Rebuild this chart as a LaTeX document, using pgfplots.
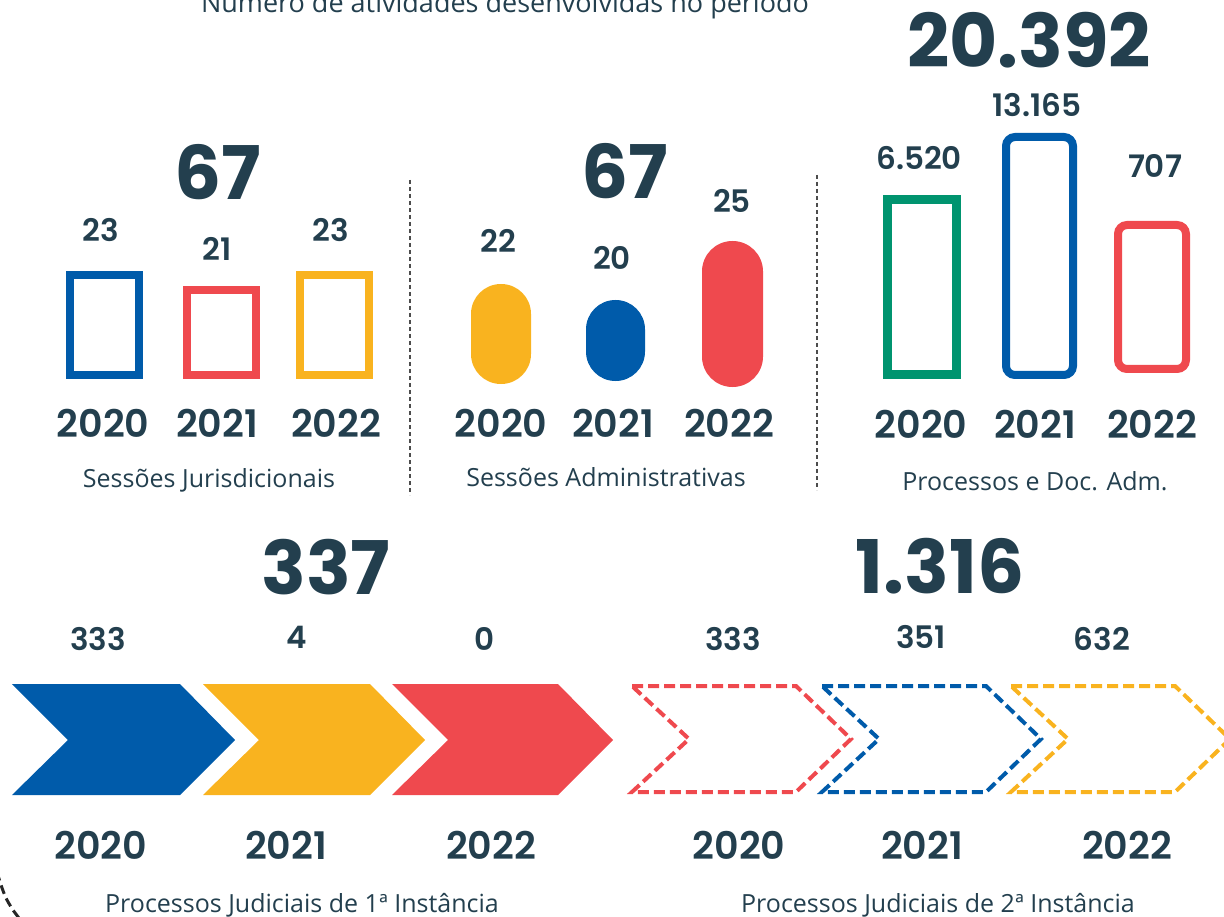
\documentclass[border=0pt]{standalone}
\usepackage{pgfplots}
\pgfplotsset{compat=1.18}
\usepackage{fontspec}
\setmainfont{Open Sans}
\newfontfamily\numfont{Poppins}
\newfontfamily\numsemi{Poppins}[UprightFont={* SemiBold}]
\definecolor{ink}{HTML}{233F4E}
\definecolor{cblue}{HTML}{005BAA}
\definecolor{cred}{HTML}{EF494E}
\definecolor{cyel}{HTML}{F9B31F}
\definecolor{cgreen}{HTML}{00946F}
\newcommand\tot[1]{{\numfont\bfseries\fontsize{74}{80}\selectfont #1}}
\newcommand\val[1]{{\numsemi\fontsize{31}{36}\selectfont #1}}
\newcommand\yr[1]{{\numsemi\fontsize{38}{42}\selectfont #1}}
\newcommand\lab[1]{{\fontsize{25}{28}\selectfont #1}}
\tikzset{lbl/.style={text=ink, inner sep=0pt, anchor=base}}
\begin{document}
\begin{tikzpicture}
\begin{axis}[scale only axis, width=1224pt, height=917pt,
  xmin=0, xmax=1224, ymin=0, ymax=917, y dir=reverse,
  axis lines=none, clip=false]
% --- title
\node[lbl] at (axis cs:505,13) {\fontsize{27}{30}\selectfont Número de atividades desenvolvidas no período};
% --- separators
\addplot[no markers, color=black!70, line width=1.5pt, dash pattern=on 4pt off 3pt] coordinates {(410,180) (410,495)};
\addplot[no markers, color=black!70, line width=1.5pt, dash pattern=on 4pt off 3pt] coordinates {(817,175) (817,490)};
% --- Panel 1: Sessoes Jurisdicionais (23, 21, 23; total 67)
\addplot[no markers, draw=cblue, line width=8pt, line join=miter] coordinates {(70,275) (139,275) (139,375) (70,375)} -- cycle;
\addplot[no markers, draw=cred, line width=8pt, line join=miter] coordinates {(187,290) (256,290) (256,375) (187,375)} -- cycle;
\addplot[no markers, draw=cyel, line width=8pt, line join=miter] coordinates {(300,275) (369,275) (369,375) (300,375)} -- cycle;
\node[lbl] at (axis cs:218,200) {\tot{67}};
\node[lbl] at (axis cs:101,242) {\val{23}};
\node[lbl] at (axis cs:217,261) {\val{21}};
\node[lbl] at (axis cs:331,242) {\val{23}};
\node[lbl] at (axis cs:103,437) {\yr{2020}};
\node[lbl] at (axis cs:217,437) {\yr{2021}};
\node[lbl] at (axis cs:336,437) {\yr{2022}};
\node[lbl] at (axis cs:209,487) {\lab{Sessões Jurisdicionais}};
% --- Panel 2: Sessoes Administrativas (22, 20, 25; total 67)
\addplot[no markers, fill=cyel, draw=none, rounded corners=29.9pt] coordinates {(471,284) (531,284) (531,384) (471,384)} -- cycle;
\addplot[no markers, fill=cblue, draw=none, rounded corners=29.4pt] coordinates {(586,300) (645,300) (645,381) (586,381)} -- cycle;
\addplot[no markers, fill=cred, draw=none, rounded corners=30.4pt] coordinates {(702,241) (763,241) (763,387) (702,387)} -- cycle;
\node[lbl] at (axis cs:625,199) {\tot{67}};
\node[lbl] at (axis cs:498,253) {\val{22}};
\node[lbl] at (axis cs:612,270) {\val{20}};
\node[lbl] at (axis cs:732,213) {\val{25}};
\node[lbl] at (axis cs:501,437) {\yr{2020}};
\node[lbl] at (axis cs:613,437) {\yr{2021}};
\node[lbl] at (axis cs:729,437) {\yr{2022}};
\node[lbl] at (axis cs:606,486) {\lab{Sessões Administrativas}};
% --- Panel 3: Processos e Doc. Adm. (6520, 13165, 707; total 20392)
\addplot[no markers, draw=cgreen, line width=9pt, line join=miter] coordinates {(887,200) (956,200) (956,375) (887,375)} -- cycle;
\addplot[no markers, draw=cblue, line width=8pt, rounded corners=9pt] coordinates {(1006,137) (1073,137) (1073,375) (1006,375)} -- cycle;
\addplot[no markers, draw=cred, line width=8pt, rounded corners=9pt] coordinates {(1118,225) (1186,225) (1186,369) (1118,369)} -- cycle;
\node[lbl] at (axis cs:1029,68) {\tot{20.392}};
\node[lbl] at (axis cs:919,170) {\val{6.520}};
\node[lbl] at (axis cs:1037,117) {\val{13.165}};
\node[lbl] at (axis cs:1155,178) {\val{707}};
\node[lbl] at (axis cs:921,438) {\yr{2020}};
\node[lbl] at (axis cs:1035,438) {\yr{2021}};
\node[lbl] at (axis cs:1152,438) {\yr{2022}};
\node[lbl] at (axis cs:1035,490) {\lab{Processos e Doc. Adm.}};
% --- Panel 4: Processos Judiciais 1a instancia (333, 4, 0; total 337)
\addplot[no markers, fill=cblue, draw=none] coordinates {(12,684) (180,684) (235,740) (180,795) (12,795) (68,740)} -- cycle;
\addplot[no markers, fill=cyel, draw=none] coordinates {(203,684) (370,684) (425,740) (370,795) (203,795) (259,740)} -- cycle;
\addplot[no markers, fill=cred, draw=none] coordinates {(392,684) (558,684) (613,740) (558,795) (392,795) (448,740)} -- cycle;
\node[lbl] at (axis cs:326,594) {\tot{337}};
\node[lbl] at (axis cs:98,650) {\val{333}};
\node[lbl] at (axis cs:297,648) {\val{4}};
\node[lbl] at (axis cs:485,650) {\val{0}};
\node[lbl] at (axis cs:101,859) {\yr{2020}};
\node[lbl] at (axis cs:286,859) {\yr{2021}};
\node[lbl] at (axis cs:491,859) {\yr{2022}};
\node[lbl] at (axis cs:302,912) {\lab{Processos Judiciais de 1ª Instância}};
% --- Panel 5: Processos Judiciais 2a instancia (333, 351, 632; total 1316)
\addplot[no markers, draw=cred, line width=4pt, dash pattern=on 11pt off 5pt] coordinates {(632,686) (796,686) (851,739) (796,792) (632,792) (689,739)} -- cycle;
\addplot[no markers, draw=cblue, line width=4pt, dash pattern=on 11pt off 5pt] coordinates {(822,686) (986,686) (1041,739) (986,792) (822,792) (879,739)} -- cycle;
\addplot[no markers, draw=cyel, line width=4pt, dash pattern=on 11pt off 5pt] coordinates {(1011,686) (1175,686) (1230,739) (1175,792) (1011,792) (1068,739)} -- cycle;
\node[lbl] at (axis cs:940,593) {\tot{1.316}};
\node[lbl] at (axis cs:733,650) {\val{333}};
\node[lbl] at (axis cs:921,648) {\val{351}};
\node[lbl] at (axis cs:1102,650) {\val{632}};
\node[lbl] at (axis cs:739,859) {\yr{2020}};
\node[lbl] at (axis cs:922,859) {\yr{2021}};
\node[lbl] at (axis cs:1127,859) {\yr{2022}};
\node[lbl] at (axis cs:938,912) {\lab{Processos Judiciais de 2ª Instância}};
% --- decorative dashed arc, bottom left
\addplot[no markers, smooth, color=black!85, line width=3pt, dash pattern=on 9pt off 5pt] coordinates {(-3,872) (1,885) (6,898) (13,910) (22,922)};
\end{axis}
\pgfresetboundingbox
\useasboundingbox (0,0) rectangle (1224pt,917pt);
\end{tikzpicture}
\end{document}
